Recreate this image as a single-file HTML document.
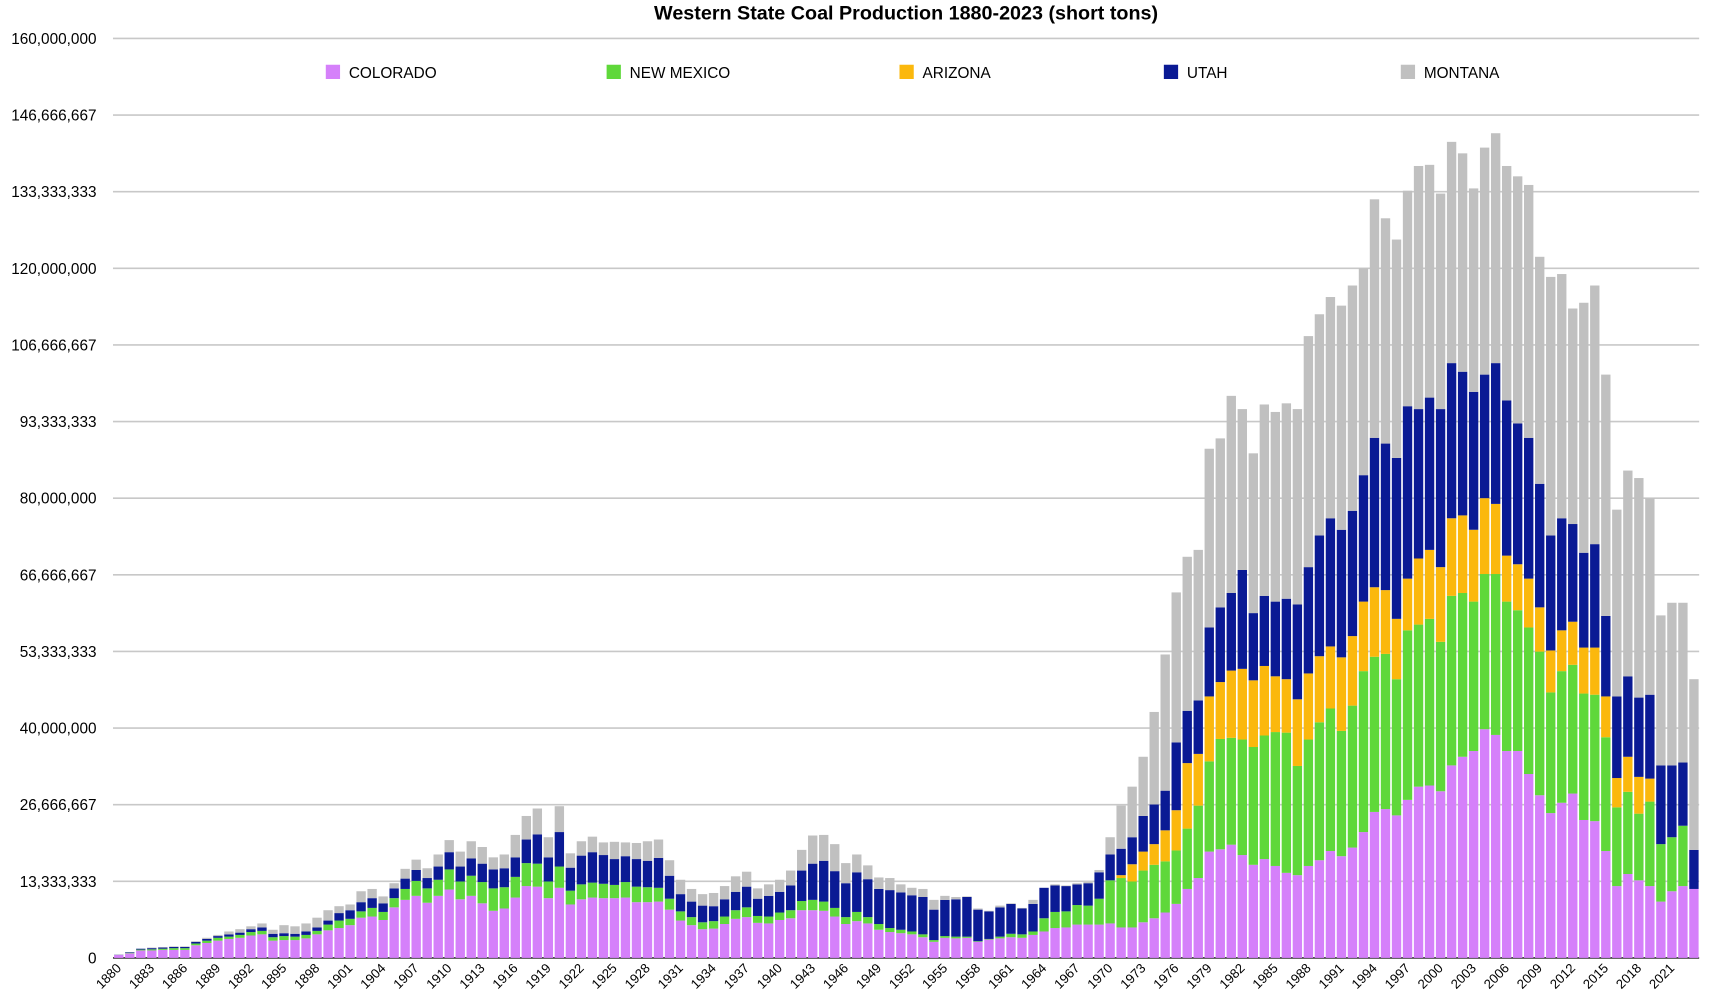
<!DOCTYPE html>
<html><head><meta charset="utf-8"><style>
html,body{margin:0;padding:0;background:#fff}
svg{display:block;font-family:"Liberation Sans",Arial,sans-serif}
</style></head><body>
<svg id="chart" width="1720" height="1004" viewBox="0 0 1568 915" preserveAspectRatio="none">
<text x="826" y="18" text-anchor="middle" font-size="18" font-weight="bold" fill="#000">Western State Coal Production 1880-2023 (short tons)</text>
<g id="grid"></g>
<g id="bars"></g>
<g id="xaxis"></g>
<g id="legend"></g>
</svg>
<script>
const startYear = 1880;
const yTicks = [0, 13333333, 26666667, 40000000, 53333333, 66666667, 80000000, 93333333, 106666667, 120000000, 133333333, 146666667, 160000000];
const yTickLabels = ["0","13,333,333","26,666,667","40,000,000","53,333,333","66,666,667","80,000,000","93,333,333","106,666,667","120,000,000","133,333,333","146,666,667","160,000,000"];
const seriesNames = ["COLORADO","NEW MEXICO","ARIZONA","UTAH","MONTANA"];
const seriesColors = ["#d580fa","#5fd83a","#fbb80d","#0a1a94","#c0c0c0"];
// values in millions of short tons
const colorado = [.5,.8,1.3,1.3,1.4,1.4,1.4,2.2,2.6,3.0,3.3,3.5,3.9,4.1,3.0,3.1,3.1,3.4,4.1,4.8,
5.2,5.7,7.0,7.2,6.6,8.8,10.1,10.8,9.6,10.8,11.9,10.2,10.8,9.5,8.2,8.6,10.5,12.5,12.4,10.4,
12.2,9.3,10.2,10.5,10.4,10.4,10.5,9.7,9.7,9.8,8.4,6.5,5.7,5.0,5.1,5.9,6.8,7.1,6.1,6.0,
6.6,6.9,8.3,8.3,8.2,7.2,5.9,6.4,6.0,4.9,4.5,4.3,4.1,3.6,2.8,3.5,3.4,3.5,2.8,3.2,
3.4,3.6,3.5,4.0,4.6,5.2,5.3,5.8,5.8,5.8,6.0,5.3,5.3,6.2,6.9,7.9,9.4,12.0,13.9,18.5,
18.9,19.7,17.9,16.2,17.2,16.0,14.8,14.4,16.0,17.0,18.6,17.7,19.2,21.9,25.4,25.9,24.8,27.5,29.8,30.0,
29,33.5,35,36,39.8,38.8,36,36,32,28.3,25.2,27,28.6,24,23.8,18.6,12.5,14.6,13.5,12.5,
9.8,11.6,12.5,12];
const newMexico = [0,.1,.15,.2,.2,.3,.3,.3,.4,.5,.4,.5,.6,.6,.6,.7,.6,.6,.6,1.0,
1.3,1.1,1.1,1.5,1.4,1.6,1.9,2.6,2.5,2.8,3.5,3.1,3.5,3.7,3.9,3.7,3.6,4.0,4.0,2.9,
3.7,2.4,2.6,2.6,2.5,2.3,2.7,2.7,2.6,2.4,1.9,1.6,1.4,1.2,1.3,1.3,1.5,1.7,1.2,1.2,
1.3,1.4,1.6,1.8,1.6,1.5,1.2,1.6,1.1,1.0,.7,.6,.5,.5,.3,.3,.3,.2,.1,.1,
.3,.6,.6,.6,2.3,2.8,2.8,3.4,3.3,4.5,7.5,8.6,8.0,9.0,9.3,8.9,9.3,10.5,12.6,15.7,
19.2,18.6,20.1,20.5,21.5,23.3,24.4,19.0,22.0,24,24.8,21.8,24.7,28,27,27,23.7,29.5,28.2,29,
26,29.5,28.5,26,27,28,26,24.5,25.5,25,21,22.9,22.4,22,22,19.8,13.7,14.3,11.6,14.7,
10,9.4,10.5,0];
const arizona = [0,0,0,0,0,0,0,0,0,0,0,0,0,0,0,0,0,0,0,0,
0,0,0,0,0,0,0,0,0,0,0,0,0,0,0,0,0,0,0,0,
0,0,0,0,0,0,0,0,0,0,0,0,0,0,0,0,0,0,0,0,
0,0,0,0,0,0,0,0,0,0,0,0,0,0,0,0,0,0,0,0,
0,0,0,0,0,0,0,0,0,0,0,.5,3.0,3.3,3.6,5.4,7.0,11.4,9.0,11.3,
9.9,11.7,12.3,11.6,12.1,9.7,9.3,11.6,11.5,11.5,10.8,12.8,12.1,12.1,12.1,11.1,10.5,9,11.5,12,
13,13.5,13.5,12.5,13.2,12.2,8,8,8.5,7.7,7.3,7.1,7.5,8,8.2,7.1,5.1,6.1,6.4,4,
0,0,0,0];
const utah = [.05,.1,.15,.2,.2,.2,.2,.3,.3,.3,.4,.4,.5,.6,.6,.5,.5,.6,.6,.7,
1.3,1.5,1.6,1.7,1.5,1.7,1.8,1.9,1.8,2.3,3.0,2.6,3.0,3.2,3.3,3.3,3.4,4.1,5.1,4.2,
6.0,4.0,5.0,5.3,5.0,4.5,4.5,4.8,4.6,5.2,4.0,3.0,2.7,2.9,2.6,3.0,3.2,3.6,3.0,3.6,
3.6,4.3,5.3,6.3,7.1,6.4,5.9,6.9,6.6,6.1,6.6,6.5,6.3,6.5,5.3,6.3,6.5,6.9,5.5,4.8,
5.1,5.2,4.5,4.8,5.3,4.6,4.4,3.6,3.9,4.6,4.5,4.6,4.7,6.2,6.9,6.9,11.8,9.1,9.3,12.0,
13,13.5,17.2,11.7,12.2,13,14,16.5,18.5,21,22.3,22.2,21.8,22,26,25.5,28,30,26,26.5,
27.5,27,25,24,21.5,24.5,27,24.5,24.5,21.5,20,19.5,17,16.5,18,14,14.2,14,13.8,14.6,
13.7,12.5,11,6.8];
const montana = [.05,0,0,.1,.1,.1,.1,.1,.2,.2,.5,.6,.5,.7,.7,1.4,1.3,1.4,1.7,1.8,
1.2,1.0,1.9,1.6,1.2,.9,1.7,1.8,1.7,2.1,2.1,2.6,3.0,2.9,2.1,2.4,3.9,4.1,4.5,3.5,
4.5,2.5,2.5,2.7,2.2,3.0,2.4,2.8,3.4,3.2,2.7,2.5,2.2,2.0,2.3,2.3,2.7,2.6,1.8,2.0,
2.1,2.6,3.6,4.9,4.5,4.7,3.5,3.1,2.4,2.0,2.1,1.4,1.3,1.4,1.7,.7,.4,.1,.2,.1,
.3,.1,.1,.7,0,.2,.1,.2,.2,.4,3.0,7.5,8.8,10.3,16.1,23.7,26.1,26.8,26.2,31.1,
29.4,34.3,28,27.8,33.3,33,34,34,40.2,38.5,38.5,39,39.2,36,41.5,39.2,38,37.5,42.3,40.5,
37.5,38.5,38,35.4,39.5,40,40.8,43,44,39.5,45,42.5,37.5,43.5,45,42,32.5,35.8,38.2,34.2,
26.1,28.3,27.8,29.7];
const years = [];
for (let i = 0; i < colorado.length; i++) years.push(startYear + i);

const NS = "http://www.w3.org/2000/svg";
const plotLeft = 103, plotRight = 1549, plotTop = 35, plotBottom = 873, yMax = 160;
const pitch = (plotRight - plotLeft) / years.length;
const barW = pitch * 0.85;
function yScale(v) { return plotBottom - v / yMax * (plotBottom - plotTop); }
function xScale(i) { return plotLeft + 1 + i * pitch; }
function mk(tag, attrs, parent) {
  const el = document.createElementNS(NS, tag);
  for (const k in attrs) el.setAttribute(k, attrs[k]);
  parent.appendChild(el);
  return el;
}
const grid = document.getElementById('grid');
yTicks.forEach((t, i) => {
  const y = yScale(t / 1e6);
  const ln = mk('line', {x1: plotLeft, x2: plotRight, y1: y, y2: y, stroke: i === 0 ? '#333' : '#c8c8c8', 'stroke-width': 1.5}, grid);
  
  
  const tx = mk('text', {x: 88, y: y + 5, 'text-anchor': 'end', 'font-size': 14, fill: '#000'}, grid);
  tx.textContent = yTickLabels[i];
  
  
});
const series = [colorado, newMexico, arizona, utah, montana];
const bars = document.getElementById('bars');
years.forEach((yr, i) => {
  let base = 0;
  series.forEach((s, k) => {
    const v = s[i];
    if (v > 0) {
      const y1 = yScale(base + v), y0 = yScale(base);
      const r = mk('rect', {x: xScale(i), y: y1, width: barW, height: Math.max(0, y0 - y1), fill: seriesColors[k]}, bars);
      
      
    }
    base += v;
  });
});
const xaxis = document.getElementById('xaxis');
years.forEach((yr, i) => {
  if (i % 3 !== 0) return;
  const cx = xScale(i) + barW / 2 + 3;
  const t = mk('text', {x: cx, y: 883, 'text-anchor': 'end', 'font-size': 12, fill: '#000', transform: 'rotate(-45 ' + cx + ' 883)'}, xaxis);
  t.textContent = yr;
  
  
});
const legend = document.getElementById('legend');
const legendX = [297, 553, 820, 1061, 1277];
seriesNames.forEach((n, k) => {
  const g = mk('g', {}, legend);
  
  
  mk('rect', {x: legendX[k], y: 59, width: 13, height: 13, fill: seriesColors[k]}, g);
  const t = mk('text', {x: legendX[k] + 21, y: 71, 'font-size': 14, fill: '#000'}, g);
  t.textContent = n;
});
</script>
</body></html>
